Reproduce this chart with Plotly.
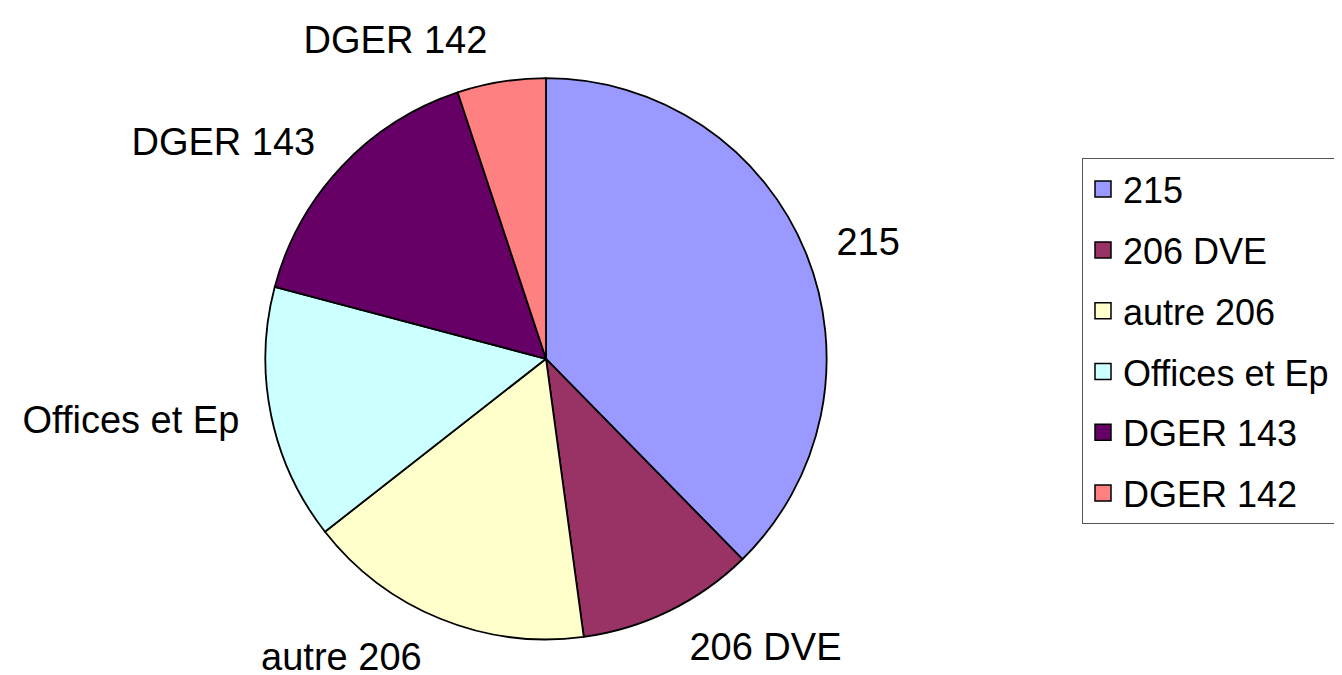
import plotly.graph_objects as go

labels = ["215", "206 DVE", "autre 206", "Offices et Ep", "DGER 143", "DGER 142"]
values = [37.7, 10.2, 16.6, 14.7, 15.8, 5.1]
colors = ["#9999FF", "#993366", "#FFFFCC", "#CCFFFF", "#660066", "#FF8080"]

W, H = 1342, 675
cx, cy, r = 538, 355, 284
label_r = r + 22  # labels sit a little further from the rim


def dom(rad):
    return dict(x=[(cx - rad) / W, (cx + rad) / W], y=[(H - cy - rad) / H, (H - cy + rad) / H])


fig = go.Figure()

# transparent carrier pie for the outside labels
fig.add_trace(go.Pie(
    labels=labels, values=values, text=labels,
    textinfo="text", textposition="outside",
    sort=False, direction="clockwise", rotation=0,
    marker=dict(colors=["rgba(0,0,0,0)"] * len(labels), line=dict(width=0)),
    outsidetextfont=dict(family="Liberation Sans, Arial, sans-serif", size=38, color="black"),
    domain=dom(label_r), showlegend=False, hoverinfo="skip",
))

# visible pie
fig.add_trace(go.Pie(
    labels=labels, values=values,
    textinfo="none",
    sort=False, direction="clockwise", rotation=0,
    marker=dict(colors=colors, line=dict(color="black", width=1.8)),
    domain=dom(r), showlegend=False,
))

# legend entries
for lab, col in zip(labels, colors):
    fig.add_trace(go.Scatter(
        x=[None], y=[None], mode="markers", name=lab, legendgroup=lab,
        marker=dict(symbol="square", size=16, color=col, line=dict(color="black", width=1.5)),
    ))

fig.update_layout(
    width=W, height=H,
    margin=dict(l=0, r=0, t=0, b=0),
    paper_bgcolor="white",
    plot_bgcolor="white",
    font=dict(family="Liberation Sans, Arial, sans-serif", color="black"),
    xaxis=dict(visible=False),
    yaxis=dict(visible=False),
    legend=dict(
        x=1074 / W, y=(H - 152) / H, xanchor="left", yanchor="top",
        bordercolor="#555555", borderwidth=1,
        font=dict(size=36, color="black"),
        bgcolor="white",
        tracegroupgap=11,
        itemwidth=30,
    ),
)

fig.write_html("out.html")
